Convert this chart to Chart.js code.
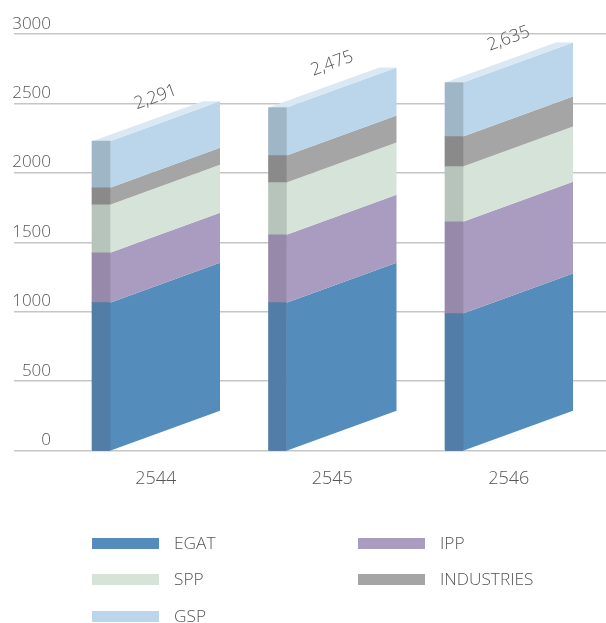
<!DOCTYPE html>
<html>
<head>
<meta charset="utf-8">
<style>html,body{margin:0;padding:0;background:#fff}#w{width:606px;height:623px}canvas{display:block}</style>
<script src="https://cdn.jsdelivr.net/npm/chart.js@4/dist/chart.umd.min.js"></script>
</head>
<body>
<div id="w"><canvas id="c" width="606" height="623"></canvas></div>
<script>
const categories = [2544, 2545, 2546];
const yTicks = [0, 500, 1000, 1500, 2000, 2500, 3000];
const totalLabels = ['2,291', '2,475', '2,635'];
const egat = [1065, 1065, 986];
const ipp = [359, 489, 661];
const spp = [346, 376, 398];
const industries = [122, 194, 216];
const gsp = [336, 346, 389];

const FONT = '"Open Sans"';
const TXT = '#555555';
const series = [
  {label:'EGAT', data:egat, front:'#548cbc', side:'#517da6'},
  {label:'IPP', data:ipp, front:'#a99cc0', side:'#9789a9'},
  {label:'SPP', data:spp, front:'#d6e3d9', side:'#b6c4bb'},
  {label:'INDUSTRIES', data:industries, front:'#a5a5a5', side:'#8a8a8a'},
  {label:'GSP', data:gsp, front:'#bbd6ea', side:'#9fb6c7'}
];
const SIDE = 18, DEPTH = 110, RISE = 40, ROOF = 17;

const solidFaces = {
  id:'solidFaces',
  beforeDatasetsDraw(chart){
    const ctx = chart.ctx;
    ctx.save();
    let tops = [];
    chart.data.datasets.forEach((ds,d)=>{
      chart.getDatasetMeta(d).data.forEach((el,i)=>{
        const l = el.x + SIDE/2, r = l + DEPTH;
        const b = d === 0 ? el.base + 1 : el.base;
        ctx.fillStyle = ds.frontColor;
        ctx.beginPath();
        ctx.moveTo(l, b);
        ctx.lineTo(r, b - RISE);
        ctx.lineTo(r, el.y - RISE);
        ctx.lineTo(l, el.y);
        ctx.closePath();
        ctx.fill();
        if (d === 0) {
          ctx.fillStyle = ds.backgroundColor;
          ctx.fillRect(el.x - SIDE/2, el.base - 1, SIDE, 2.2);
        }
        tops[i] = el;
      });
    });
    tops.forEach(el=>{
      const l = el.x - SIDE/2, m = el.x + SIDE/2, r = m + DEPTH;
      ctx.fillStyle = '#dae8f3';
      ctx.beginPath();
      ctx.moveTo(l, el.y);
      ctx.lineTo(m, el.y);
      ctx.lineTo(r, el.y - RISE);
      ctx.lineTo(r - ROOF, el.y - RISE);
      ctx.closePath();
      ctx.fill();
    });
    ctx.restore();
  },
  afterDatasetsDraw(chart){
    const ctx = chart.ctx;
    const last = chart.data.datasets.length - 1;
    ctx.save();
    ctx.fillStyle = TXT;
    ctx.font = '300 17.5px ' + FONT;
    ctx.textAlign = 'center';
    ctx.textBaseline = 'middle';
    chart.getDatasetMeta(last).data.forEach((el,i)=>{
      ctx.save();
      ctx.translate(el.x + 54.7, el.y - 44);
      ctx.rotate(-20 * Math.PI / 180);
      ctx.fillText(totalLabels[i], 0, 0);
      ctx.restore();
    });
    ctx.restore();
  },
  afterDraw(chart){
    const ctx = chart.ctx;
    const cols = [92, 358], rows = [538, 574, 611];
    ctx.save();
    ctx.font = '300 17.3px ' + FONT;
    ctx.textBaseline = 'middle';
    ctx.textAlign = 'left';
    chart.data.datasets.forEach((ds,i)=>{
      const x = cols[i % 2], y = rows[Math.floor(i / 2)];
      ctx.fillStyle = ds.frontColor;
      ctx.fillRect(x, y, 67, 11);
      ctx.fillStyle = TXT;
      ctx.fillText(ds.label, x + 82, y + 6);
    });
    ctx.restore();
  }
};

new Chart(document.getElementById('c'), {
  type:'bar',
  data:{
    labels:categories,
    datasets:series.map(s=>({
      label:s.label, data:s.data, backgroundColor:s.side, frontColor:s.front,
      borderWidth:0, barThickness:SIDE, stack:'a'
    }))
  },
  options:{
    responsive:false,
    animation:false,
    layout:{padding:{top:34,left:0,right:0,bottom:0}},
    plugins:{legend:{display:false},tooltip:{enabled:false},title:{display:false}},
    scales:{
      x:{
        type:'linear', stacked:true, offset:false,
        min:2543.5071, max:2546.8612,
        afterBuildTicks(s){ s.ticks = categories.map(v=>({value:v})); },
        afterFit(s){ s.height = 172.5; },
        grid:{display:false}, border:{display:false},
        ticks:{
          callback:v=>String(v), autoSkip:false, maxRotation:0, minRotation:0,
          labelOffset:54.7, padding:9.5, color:TXT,
          font:{family:FONT,size:18,weight:'300'}
        }
      },
      y:{
        type:'linear', stacked:true, min:0, max:3000,
        afterBuildTicks(s){ s.ticks = yTicks.map(v=>({value:v})); },
        afterFit(s){ s.width = 14; s._computeLabelArea = () => undefined; },
        border:{display:false},
        grid:{color:'#c6c6c6', lineWidth:1.5, drawTicks:false},
        ticks:{
          callback:v=>String(v), padding:-37, labelOffset:-10.2, color:TXT,
          font:{family:FONT,size:17,weight:'300'}
        }
      }
    }
  },
  plugins:[solidFaces]
});
</script>
</body>
</html>
